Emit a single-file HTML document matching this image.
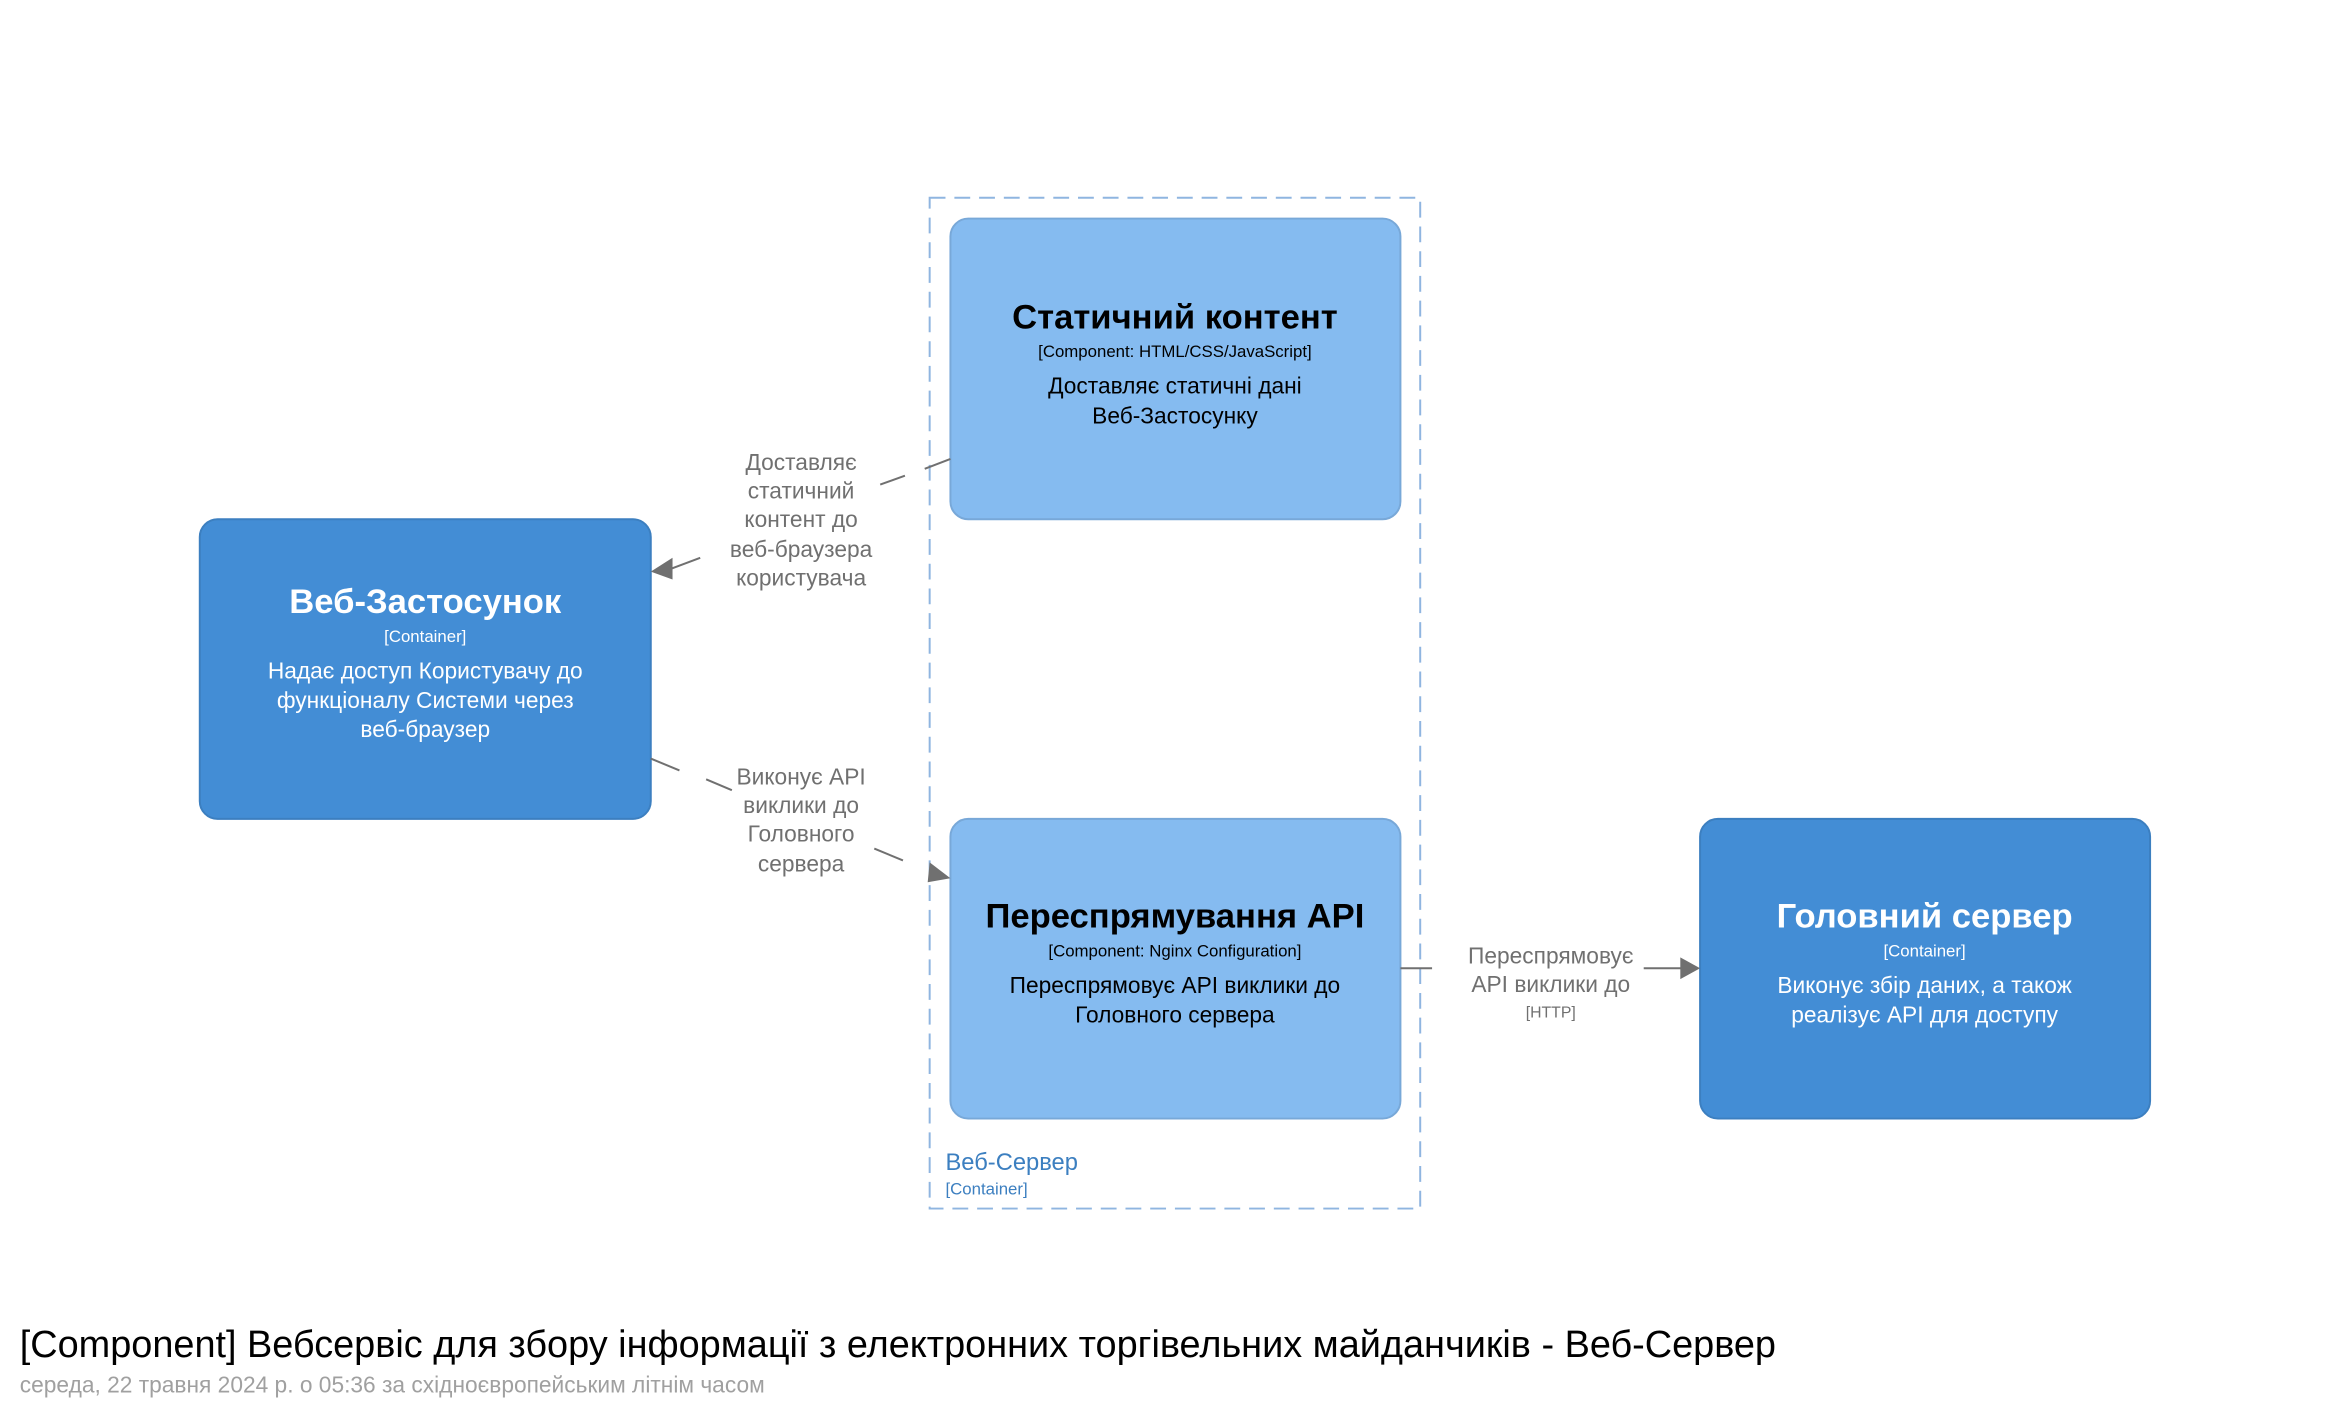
<!DOCTYPE html>
<html><head><meta charset="utf-8"><style>
html,body{margin:0;padding:0;background:#fff;}
svg{display:block;}
text{font-family:"Liberation Sans","DejaVu Sans",sans-serif;}
</style></head><body>
<svg width="2350" height="1411" viewBox="0 0 2350 1411" xmlns="http://www.w3.org/2000/svg">
<g transform="scale(0.989)">
<!-- boundary -->
<rect x="940" y="200" width="496" height="1022" fill="none" stroke="#8fb5e0" stroke-width="2" stroke-dasharray="16,9"/>
<text x="956" y="1183" font-size="24" fill="#3c7fc0">Веб-Сервер</text>
<text x="956" y="1208" font-size="17" fill="#3c7fc0">[Container]</text>

<!-- boxes -->
<rect x="202" y="525" width="456" height="303" rx="18" fill="#438dd5" stroke="#3c7fc0" stroke-width="2"/>
<rect x="961" y="221" width="455" height="304" rx="18" fill="#85bbf0" stroke="#78a8d8" stroke-width="2"/>
<rect x="961" y="828" width="455" height="303" rx="18" fill="#85bbf0" stroke="#78a8d8" stroke-width="2"/>
<rect x="1719" y="828" width="455" height="303" rx="18" fill="#438dd5" stroke="#3c7fc0" stroke-width="2"/>

<g text-anchor="middle">
<text x="430" y="620" font-size="35" font-weight="bold" fill="#fff">Веб-Застосунок</text>
<text x="430" y="649" font-size="17" fill="#fff">[Container]</text>
<text x="430" y="686" font-size="23" fill="#fff">Надає доступ Користувачу до</text>
<text x="430" y="716" font-size="23" fill="#fff">функціоналу Системи через</text>
<text x="430" y="745" font-size="23" fill="#fff">веб-браузер</text>

<text x="1188" y="332" font-size="35" font-weight="bold" fill="#000">Статичний контент</text>
<text x="1188" y="361" font-size="17" fill="#000">[Component: HTML/CSS/JavaScript]</text>
<text x="1188" y="398" font-size="23" fill="#000">Доставляє статичні дані</text>
<text x="1188" y="428" font-size="23" fill="#000">Веб-Застосунку</text>

<text x="1188" y="938" font-size="35" font-weight="bold" fill="#000">Переспрямування API</text>
<text x="1188" y="967" font-size="17" fill="#000">[Component: Nginx Configuration]</text>
<text x="1188" y="1004" font-size="23" fill="#000">Переспрямовує API виклики до</text>
<text x="1188" y="1034" font-size="23" fill="#000">Головного сервера</text>

<text x="1946" y="938" font-size="35" font-weight="bold" fill="#fff">Головний сервер</text>
<text x="1946" y="967" font-size="17" fill="#fff">[Container]</text>
<text x="1946" y="1004" font-size="23" fill="#fff">Виконує збір даних, а також</text>
<text x="1946" y="1034" font-size="23" fill="#fff">реалізує API для доступу</text>
</g>

<!-- edges -->
<g stroke="#707070" stroke-width="2" fill="none">
<line x1="961" y1="464" x2="935" y2="474"/>
<line x1="915" y1="481" x2="890" y2="490"/>
<line x1="708" y1="564" x2="676" y2="576"/>
<line x1="658" y1="767" x2="687" y2="779"/>
<line x1="714" y1="788" x2="740" y2="799"/>
<line x1="884" y1="858" x2="913" y2="870"/>
<line x1="1416" y1="979" x2="1448" y2="979"/>
<line x1="1662" y1="979" x2="1700" y2="979"/>
</g>
<g fill="#707070">
<polygon points="658,578 680,564 680,586"/>
<polygon points="961,888 940,872 938,892"/>
<polygon points="1719,979 1699,968 1699,990"/>
</g>
<g text-anchor="middle" fill="#707070" font-size="23">
<text x="810" y="475">Доставляє</text>
<text x="810" y="504">статичний</text>
<text x="810" y="533">контент до</text>
<text x="810" y="563">веб-браузера</text>
<text x="810" y="592">користувача</text>
<text x="810" y="793">Виконує API</text>
<text x="810" y="822">виклики до</text>
<text x="810" y="851">Головного</text>
<text x="810" y="881">сервера</text>
<text x="1568" y="974">Переспрямовує</text>
<text x="1568" y="1003">API виклики до</text>
<text x="1568" y="1029" font-size="16">[HTTP]</text>
</g>

<text x="20" y="1372" font-size="38.3" fill="#000">[Component] Вебсервіс для збору інформації з електронних торгівельних майданчиків - Веб-Сервер</text>
<text x="20" y="1408" font-size="23" fill="#a0a0a0">середа, 22 травня 2024 р. о 05:36 за східноєвропейським літнім часом</text>
</g>
</svg>
</body></html>
